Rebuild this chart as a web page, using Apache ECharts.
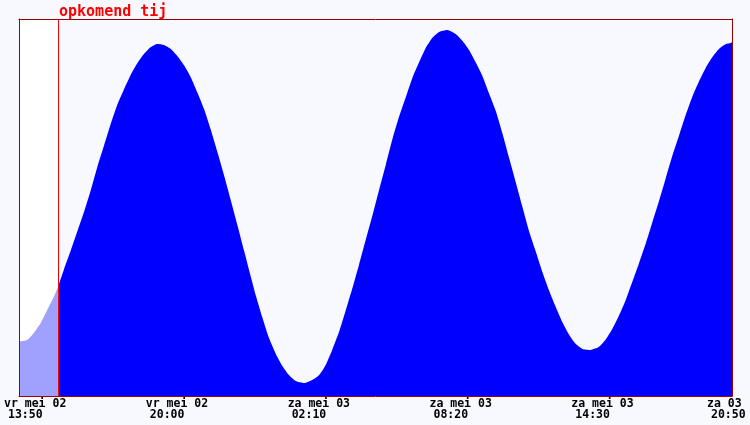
<!DOCTYPE html>
<html>
<head>
<meta charset="utf-8">
<script src="https://cdn.jsdelivr.net/npm/echarts@6/dist/echarts.min.js"></script>
<style>
html,body{margin:0;padding:0;background:#f8f8ff;}
#chart{width:750px;height:425px;}
</style>
</head>
<body>
<div id="chart"></div>
<script>
// minutes since vr mei 02 13:50
const minutes = [0,22,39,57,74,91,102,117,135,152,170,187,204,222,239,256,274,291,309,326,344,361,378,396,413,430,448,465,483,500,517,535,552,570,587,604,618,635,652,670,687,704,722,744,765,783,800,817,835,852,870,887,904,922,939,957,974,991,1009,1026,1044,1061,1078,1096,1117,1139,1157,1174,1191,1209,1226,1244,1261,1278,1296,1313,1330,1348,1365,1383,1400,1417,1435,1452,1470,1491,1513,1530,1548,1565,1583,1600,1617,1635,1652,1670,1687,1704,1722,1739,1756,1774,1791,1809,1826,1844,1857,1860];
// water level (relative units)
const levels = [54,56,63,73,86,99,109,126,145,164,184,205,228,250,271,290,306,320,332,341,348,351,350,346,339,330,318,303,286,266,244,220,196,170,145,120,100,78,58,42,30,21,15,13,16,21,31,46,64,85,108,131,155,180,205,231,256,278,298,317,333,347,357,363,365,361,354,345,333,319,302,284,262,238,213,189,165,144,124,105,89,74,61,52,47,46,49,56,67,80,96,114,132,152,173,195,217,239,260,280,298,314,327,338,346,351,352,353];
const nowMinute = 102;
const tickMinutes = [0,370,740,1110,1480,1860];
const tickDates = ['vr mei 02','vr mei 02','za mei 03','za mei 03','za mei 03','za 03'];
const tickTimes = ['13:50','20:00','02:10','08:20','14:30','20:50'];
const titleText = 'opkomend tij';

const past = [], future = [];
for (let i = 0; i < minutes.length; i++) {
  if (minutes[i] <= nowMinute) past.push([minutes[i], levels[i]]);
  if (minutes[i] >= nowMinute) future.push([minutes[i], levels[i]]);
}

const font = 'DejaVu Sans Mono';
const tok = (pl) => ({fontFamily: font, fontWeight: 'bold', fontSize: 11.5, color: '#000', lineHeight: 11, padding: [0,0,0,pl]});
const borderColor = '#990000';
const frameLine = {show: true, onZero: false, lineStyle: {color: borderColor, width: 1}};

const chart = echarts.init(document.getElementById('chart'), null, {renderer: 'canvas'});
chart.setOption({
  backgroundColor: '#f8f8ff',
  animation: false,
  title: {
    text: titleText, left: 59, top: 5, padding: 0,
    textStyle: {fontFamily: font, fontWeight: 'bold', fontSize: 15, color: '#ff0000'}
  },
  grid: {left: 19, right: 18, top: 19, bottom: 29, show: true, backgroundColor: '#f8f8ff', borderWidth: 0,
         containLabel: false, outerBoundsMode: 'none'},
  xAxis: [{
    type: 'value', min: 0, max: 1860, z: 10,
    axisLine: frameLine,
    axisTick: {show: false}, splitLine: {show: false},
    axisLabel: {
      customValues: tickMinutes, hideOverlap: false,
      align: 'left', margin: 3, padding: [0,0,0,-25],
      formatter: function (v) {
        const i = tickMinutes.indexOf(v);
        if (i < 0) return '';
        if (i === tickMinutes.length - 1) return '{dl|' + tickDates[i] + '}\n{tl|' + tickTimes[i] + '}';
        return '{d|' + tickDates[i] + '}\n{t|' + tickTimes[i] + '}';
      },
      rich: {d: tok(10), t: tok(14), dl: tok(0), tl: tok(4)}
    }
  }, {
    type: 'value', min: 0, max: 1860, position: 'top', z: 10,
    axisLine: frameLine,
    axisTick: {show: false}, splitLine: {show: false}, axisLabel: {show: false}
  }],
  yAxis: [{
    type: 'value', min: 0, max: 376, z: 10, position: 'left',
    axisLine: frameLine,
    axisTick: {show: false}, splitLine: {show: false}, axisLabel: {show: false}
  }, {
    type: 'value', min: 0, max: 376, z: 10, position: 'right',
    axisLine: frameLine,
    axisTick: {show: false}, splitLine: {show: false}, axisLabel: {show: false}
  }],
  series: [{
    type: 'line', data: past, showSymbol: false, smooth: 0.2,
    lineStyle: {width: 0}, areaStyle: {color: '#a0a0ff', opacity: 1},
    silent: true,
    markArea: {
      silent: true,
      itemStyle: {color: '#ffffff'},
      data: [[{xAxis: 0}, {xAxis: nowMinute}]]
    }
  }, {
    type: 'line', data: future, showSymbol: false, smooth: 0.2,
    lineStyle: {width: 0}, areaStyle: {color: '#0000ff', opacity: 1},
    silent: true,
    markLine: {
      silent: true, symbol: ['none','none'], label: {show: false},
      lineStyle: {color: '#ff0000', width: 1, type: 'solid'},
      data: [{xAxis: nowMinute}]
    }
  }]
});
</script>
</body>
</html>
